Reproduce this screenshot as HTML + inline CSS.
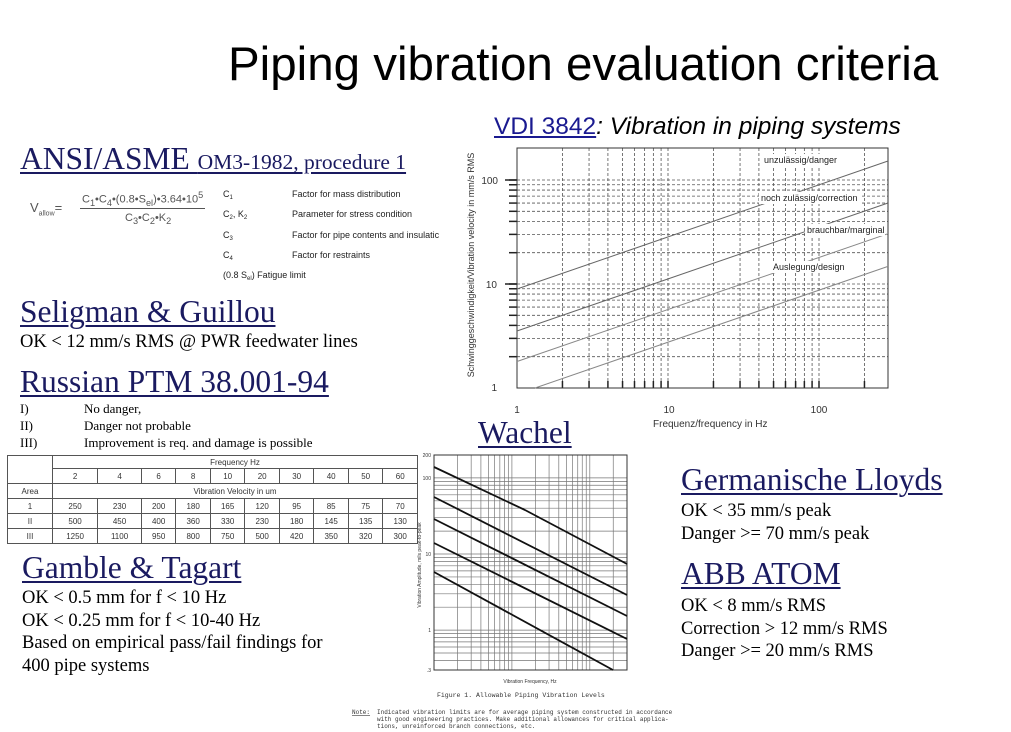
<!DOCTYPE html>
<html><head><meta charset="utf-8"><style>
body{margin:0;background:#fff;width:1011px;height:732px;overflow:hidden;position:relative;font-family:"Liberation Serif",serif;}
.a{position:absolute;white-space:nowrap;}
.h{font-family:"Liberation Serif",serif;font-size:31.5px;color:#1a1a60;text-decoration:underline;text-decoration-thickness:2px;text-underline-offset:3px;}
.b{font-size:18.5px;color:#000;}
.s{font-family:"Liberation Sans",sans-serif;font-size:9px;color:#222;}
.s sub{font-size:6px;vertical-align:-2px;line-height:0;}
table{border-collapse:collapse;font-family:"Liberation Sans",sans-serif;font-size:8px;color:#333;}
td{border:1px solid #555;text-align:center;padding:0;height:14px;}
</style></head><body>
<div class="a" style="left:228px;top:37px;font-family:'Liberation Sans',sans-serif;font-size:47.5px;color:#000;">Piping vibration evaluation criteria</div>

<div class="a h" style="left:20px;top:141px;">ANSI/ASME <span style="font-size:21.5px">OM3-1982, procedure 1</span></div>
<div class="a" style="left:30px;top:200px;font-family:'Liberation Sans',sans-serif;font-size:13px;color:#555;">V<sub style="font-size:7px">allow</sub>=</div>
<div class="a" style="left:80px;top:190px;font-family:'Liberation Sans',sans-serif;font-size:11px;color:#555;border-bottom:1px solid #555;padding:0 2px;">C<sub>1</sub>•C<sub>4</sub>•(0.8•S<sub>el</sub>)•3.64•10<sup>5</sup></div>
<div class="a" style="left:125px;top:212px;font-family:'Liberation Sans',sans-serif;font-size:11px;color:#555;">C<sub>3</sub>•C<sub>2</sub>•K<sub>2</sub></div>
<div class="a s" style="left:223px;top:184px;line-height:20.3px;">C<sub>1</sub><br>C<sub>2</sub>, K<sub>2</sub><br>C<sub>3</sub><br>C<sub>4</sub><br>(0.8 S<sub>el</sub>) Fatigue limit</div>
<div class="a s" style="left:292px;top:184px;line-height:20.3px;">Factor for mass distribution<br>Parameter for stress condition<br>Factor for pipe contents and insulatic<br>Factor for restraints</div>

<div class="a h" style="left:20px;top:294px;">Seligman &amp; Guillou</div>
<div class="a b" style="left:20px;top:332px;">OK &lt; 12 mm/s RMS @ PWR feedwater lines</div>
<div class="a h" style="left:20px;top:364px;">Russian PTM 38.001-94</div>
<div class="a" style="left:20px;top:400px;font-size:13px;line-height:17px;">I)<br>II)<br>III)</div>
<div class="a" style="left:84px;top:400px;font-size:13px;line-height:17px;">No danger,<br>Danger not probable<br>Improvement is req. and damage is possible</div>

<table class="a" style="left:7px;top:455px;width:411px;">
<tr><td rowspan="2" style="width:44px"></td><td colspan="10" style="height:12px">Frequency Hz</td></tr>
<tr><td>2</td><td>4</td><td>6</td><td>8</td><td>10</td><td>20</td><td>30</td><td>40</td><td>50</td><td>60</td></tr>
<tr><td>Area</td><td colspan="10">Vibration Velocity in um</td></tr>
<tr><td>1</td><td>250</td><td>230</td><td>200</td><td>180</td><td>165</td><td>120</td><td>95</td><td>85</td><td>75</td><td>70</td></tr>
<tr><td>II</td><td>500</td><td>450</td><td>400</td><td>360</td><td>330</td><td>230</td><td>180</td><td>145</td><td>135</td><td>130</td></tr>
<tr><td>III</td><td>1250</td><td>1100</td><td>950</td><td>800</td><td>750</td><td>500</td><td>420</td><td>350</td><td>320</td><td>300</td></tr>
</table>

<div class="a h" style="left:22px;top:550px;">Gamble &amp; Tagart</div>
<div class="a b" style="left:22px;top:587px;line-height:22.7px;">OK &lt; 0.5 mm for f &lt; 10 Hz<br>OK &lt; 0.25 mm for f &lt; 10-40 Hz<br>Based on empirical pass/fail findings for<br>400 pipe systems</div>

<div class="a h" style="left:478px;top:415px;">Wachel</div>
<div class="a h" style="left:681px;top:462px;">Germanische Lloyds</div>
<div class="a b" style="left:681px;top:500px;line-height:23px;">OK &lt; 35 mm/s peak<br>Danger &gt;= 70 mm/s peak</div>
<div class="a h" style="left:681px;top:556px;">ABB ATOM</div>
<div class="a b" style="left:681px;top:595px;line-height:22.5px;">OK &lt; 8 mm/s RMS<br>Correction &gt; 12 mm/s RMS<br>Danger &gt;= 20 mm/s RMS</div>

<div class="a" style="left:494px;top:113px;font-family:'Liberation Sans',sans-serif;font-size:24.5px;"><span style="color:#1a1a90;text-decoration:underline;">VDI 3842</span><i>: Vibration in piping systems</i></div>

<svg id="sv" class="a" style="left:0;top:0" width="1011" height="732" font-family="Liberation Sans, sans-serif"></svg>
<script>
var s=document.getElementById('sv'),h='';
function L(x1,y1,x2,y2,c,w,d){h+='<line x1="'+x1+'" y1="'+y1+'" x2="'+x2+'" y2="'+y2+'" stroke="'+c+'" stroke-width="'+w+'"'+(d?' stroke-dasharray="'+d+'"':'')+'/>';}
function T(x,y,t,sz,a,c,ex){h+='<text x="'+x+'" y="'+y+'" font-size="'+sz+'" text-anchor="'+(a||'start')+'" fill="'+(c||'#333')+'" '+(ex||'')+'>'+t+'</text>';}
function TB(x,y,t,sz,w){h+='<rect x="'+(x-2)+'" y="'+(y-sz)+'" width="'+w+'" height="'+(sz+3)+'" fill="#fff"/>';T(x,y,t,sz,'start','#222');}
var lg=Math.log10;
var X=f=>517+151*lg(f),Y=v=>388-104*lg(v);
[2,3,4,5,6,7,8,9,10,20,30,40,50,60,70,80,90,100,200].forEach(f=>{L(X(f),148,X(f),388,'#555',0.8,'3,2');L(X(f),388,X(f),381,'#222',1.5);});
[2,3,4,5,6,7,8,9,10,20,30,40,50,60,70,80,90,100].forEach(v=>{L(517,Y(v),888,Y(v),'#555',0.8,'3,2');L(509,Y(v),517,Y(v),'#222',1.5);});
L(505,180,517,180,'#222',1.5);L(505,284,517,284,'#222',1.5);
h+='<rect x="517" y="148" width="371" height="240" fill="none" stroke="#333" stroke-width="1"/>';
L(517,289,888,161,'#666',1);L(517,331,888,203,'#666',1);L(517,361.5,888,233.7,'#888',1);L(535,388,888,266.4,'#888',1);
T(498,184,'100',10,'end');T(497,288,'10',10,'end');T(497,391,'1',10,'end');
T(517,413,'1',10,'middle');T(669,413,'10',10,'middle');T(819,413,'100',10,'middle');
T(653,427,'Frequenz/frequency in Hz',10,'start');
TB(764,163,'unzulässig/danger',9,76);TB(761,201,'noch zulässig/correction',9,101);
TB(807,233,'brauchbar/marginal',9,80);TB(773,270,'Auslegung/design',9,75);
T(474,265,'Schwinggeschwindigkeit/Vibration velocity in mm/s RMS',9,'middle','#333','transform="rotate(-90 474 265)"');
var WX=f=>434+77.9*lg(f),WY=v=>455+76.1*lg(200/v);
[2,3,4,5,6,7,8,9,10,20,30,40,50,60,70,80,90,100,200,300].forEach(f=>L(WX(f),455,WX(f),670,'#777',0.7));
[0.4,0.5,0.6,0.7,0.8,0.9,1,2,3,4,5,6,7,8,9,10,20,30,40,50,60,70,80,90,100].forEach(v=>L(434,WY(v),627,WY(v),'#777',0.7));
h+='<rect x="434" y="455" width="193" height="215" fill="none" stroke="#333" stroke-width="1"/>';
h+='<polyline points="434,467 525,510 627,564" fill="none" stroke="#111" stroke-width="1.8"/>';
L(434,497,627,595,'#111',1.8);L(434,519,627,616,'#111',1.8);L(434,543,627,639,'#111',1.8);L(434,572,613,670,'#111',1.8);
[['200',200],['100',100],['10',10],['1',1],['.3',0.3]].forEach(a=>T(431,WY(a[1])+2,a[0],5,'end'));
T(530,683,'Vibration Frequency, Hz',5,'middle');
T(421,565,'Vibration Amplitude, mils peak-to-peak',5,'middle','#333','transform="rotate(-90 421 565)"');
T(437,697,'Figure 1.   Allowable Piping Vibration Levels',6.5,'start','#333','font-family="Liberation Mono, monospace"');
T(352,714,'Note:',6,'start','#333','font-family="Liberation Mono, monospace" text-decoration="underline"');
T(377,714,'Indicated vibration limits are for average piping system constructed in accordance',6,'start','#333','font-family="Liberation Mono, monospace"');
T(377,721,'with good engineering practices.  Make additional allowances for critical applica-',6,'start','#333','font-family="Liberation Mono, monospace"');
T(377,728,'tions, unreinforced branch connections, etc.',6,'start','#333','font-family="Liberation Mono, monospace"');
s.innerHTML=h;
</script>
</body></html>
